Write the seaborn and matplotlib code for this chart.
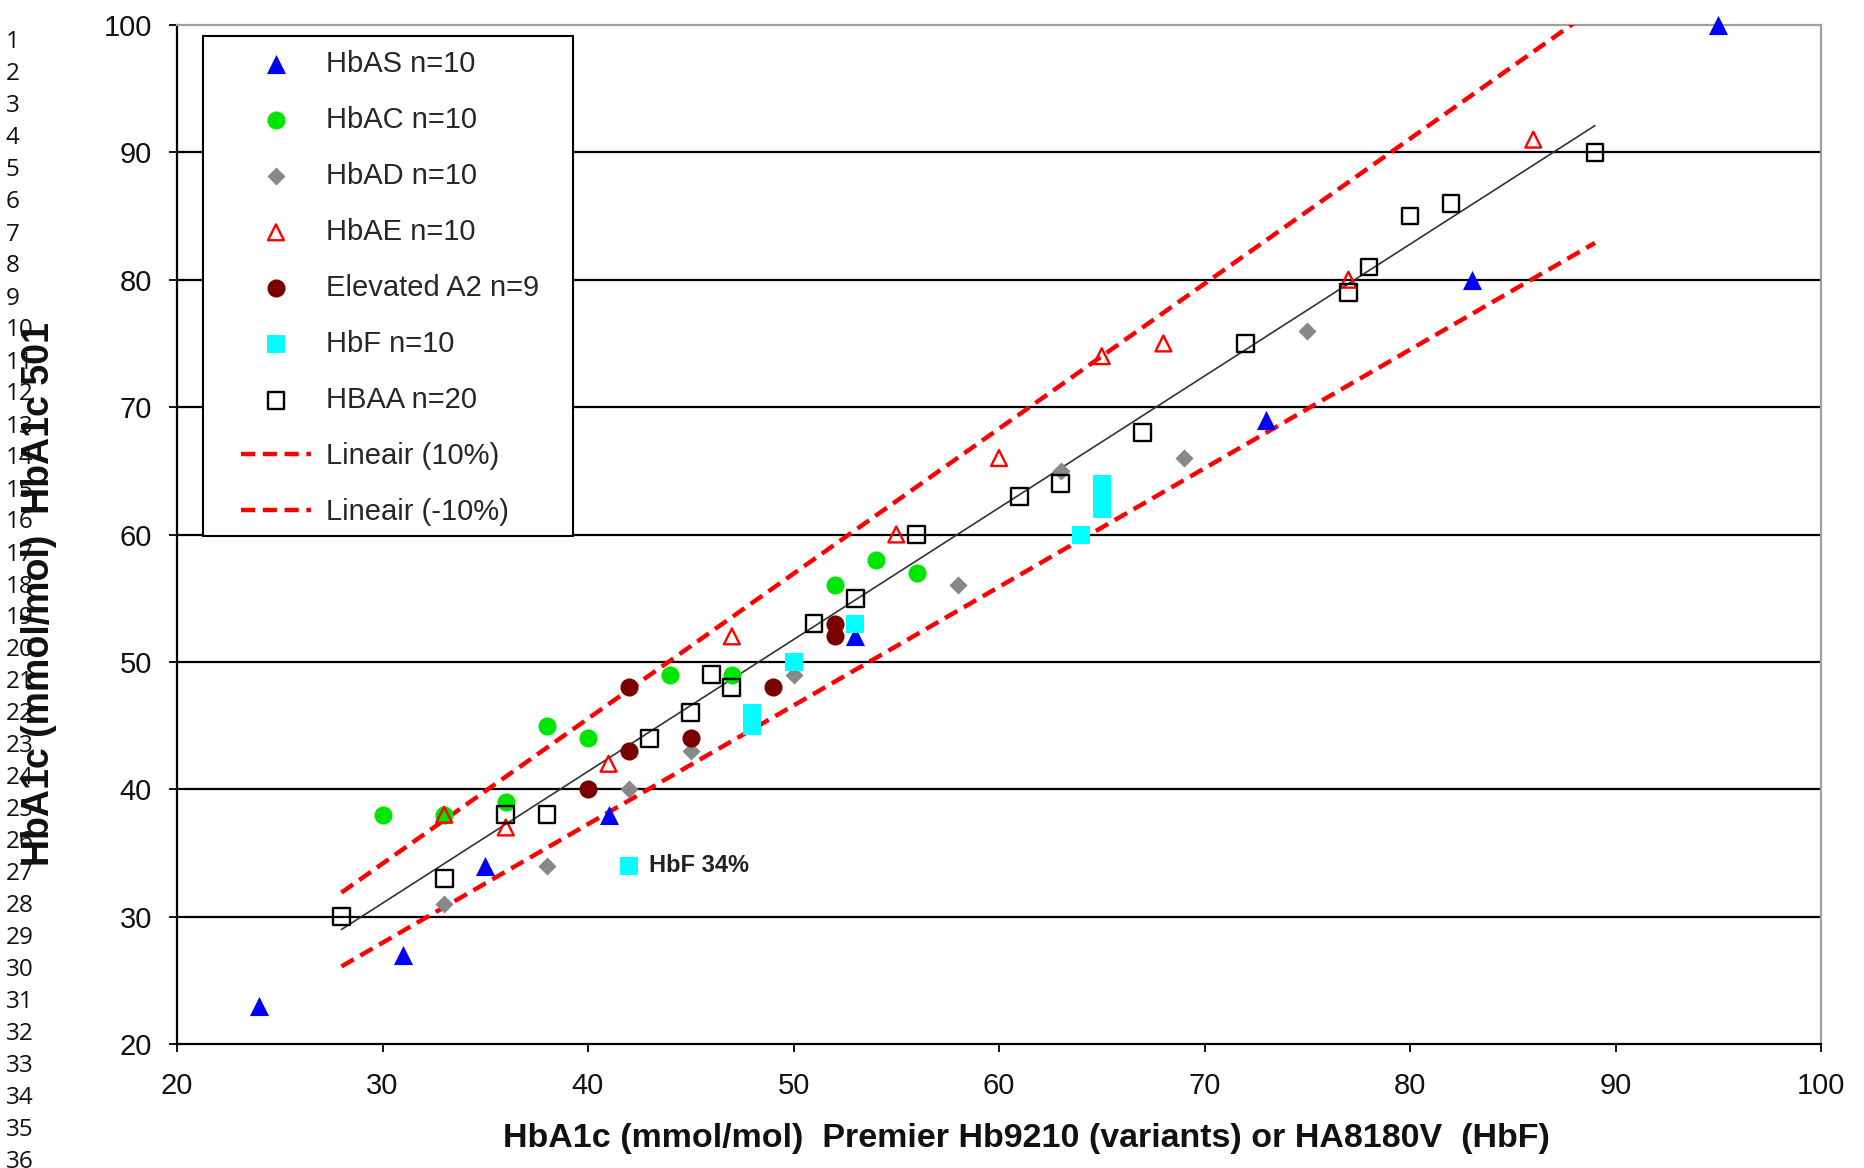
import numpy as np
import matplotlib
matplotlib.use("Agg")
import matplotlib.pyplot as plt
from matplotlib.patches import Rectangle
import seaborn as sns

# values
hbas_x = [24, 31, 35, 41, 53, 73, 83, 95]
hbas_y = [23, 27, 34, 38, 52, 69, 80, 100]

hbac_x = [30, 33, 36, 38, 40, 44, 47, 52, 54, 56]
hbac_y = [38, 38, 39, 45, 44, 49, 49, 56, 58, 57]

hbad_x = [33, 38, 42, 45, 50, 58, 63, 69, 75]
hbad_y = [31, 34, 40, 43, 49, 56, 65, 66, 76]

hbae_x = [33, 36, 41, 47, 55, 60, 65, 68, 77, 86]
hbae_y = [38, 37, 42, 52, 60, 66, 74, 75, 80, 91]

a2_x = [40, 42, 42, 45, 49, 52, 52]
a2_y = [40, 48, 43, 44, 48, 53, 52]

hbf_x = [42, 48, 48, 50, 53, 64, 65, 65, 65]
hbf_y = [34, 45, 46, 50, 53, 60, 62, 63, 64]

hbaa_x = [28, 33, 36, 38, 43, 45, 46, 47, 51, 53, 56, 61, 63, 67, 72, 77, 78, 80, 82, 89]
hbaa_y = [30, 33, 38, 38, 44, 46, 49, 48, 53, 55, 60, 63, 64, 68, 75, 79, 81, 85, 86, 90]

x_ticks = [20, 30, 40, 50, 60, 70, 80, 90, 100]
y_ticks = [20, 30, 40, 50, 60, 70, 80, 90, 100]
line_numbers = [str(n) for n in range(1, 37)]

sns.set_style("white")
plt.rcParams["font.family"] = ["Liberation Sans", "DejaVu Sans"]

fig = plt.figure(figsize=(18.64, 11.68), dpi=100)
ax = fig.add_axes([177 / 1864, 1 - 1044 / 1168, (1821 - 177) / 1864, (1044 - 25) / 1168])

groups = [
    (hbas_x, hbas_y, "HbAS n=10", "^", "#0000FF", True, 190),
    (hbac_x, hbac_y, "HbAC n=10", "o", "#00E600", True, 170),
    (hbad_x, hbad_y, "HbAD n=10", "D", "#888888", True, 85),
    (hbae_x, hbae_y, "HbAE n=10", "^", "#FF0000", False, 130),
    (a2_x, a2_y, "Elevated A2 n=9", "o", "#7A0000", True, 170),
    (hbf_x, hbf_y, "HbF n=10", "s", "#00FFFF", True, 160),
    (hbaa_x, hbaa_y, "HBAA n=20", "s", "#000000", False, 145),
]
for gx, gy, lab, mk, col, filled, size in groups:
    sns.scatterplot(x=gx, y=gy, marker=mk, color=col, s=size, linewidth=0,
                    label=lab, ax=ax, zorder=4, clip_on=False, legend=False)
    pts = ax.collections[-1]
    if not filled:
        pts.set_facecolor("none")
        pts.set_edgecolor(col)
        pts.set_linewidth(1.7)

# trend line through HBAA and +/-10% bands
sns.regplot(x=hbaa_x, y=hbaa_y, scatter=False, ci=None, truncate=True,
            line_kws=dict(color="#333333", lw=1.2), ax=ax)
coef = np.polyfit(hbaa_x, hbaa_y, 1)
xs = np.array([min(hbaa_x), max(hbaa_x)])
ax.plot(xs, 1.1 * np.polyval(coef, xs), color="#FF0000", lw=3.2, dashes=(3.2, 1.7),
        label="Lineair (10%)", zorder=3)
ax.plot(xs, 0.9 * np.polyval(coef, xs), color="#FF0000", lw=3.2, dashes=(3.2, 1.7),
        label="Lineair (-10%)", zorder=3)

ax.annotate("HbF 34%", xy=(hbf_x[0], hbf_y[0]), xytext=(14, 0), textcoords="offset points",
            va="center", ha="left", fontsize=17, fontweight="bold", color="#222222")

ax.set_xlim(20, 100)
ax.set_ylim(20, 100)
ax.set_xticks(x_ticks)
ax.set_yticks(y_ticks)
ax.tick_params(axis="both", direction="out", length=6, width=1.3, color="black",
               labelsize=21, labelcolor="#111111", pad=12)
ax.tick_params(axis="x", pad=14)
ax.tick_params(left=True, bottom=True)

ax.yaxis.grid(True, color="black", lw=1.6)
ax.xaxis.grid(False)
grid = ax.get_ygridlines()
grid[0].set_visible(False)
grid[-1].set_visible(False)
ax.set_axisbelow(True)

for side in ["left", "bottom"]:
    ax.spines[side].set_color("black")
    ax.spines[side].set_linewidth(1.6)
for side in ["top", "right"]:
    ax.spines[side].set_color("#A0A0A0")
    ax.spines[side].set_linewidth(1.6)

# legend box drawn separately so the padding can differ left/right vs top/bottom
box = Rectangle((0.0158, 0.4985), 0.2251, 0.4905, transform=ax.transAxes,
                facecolor="white", edgecolor="black", lw=1.5, zorder=5)
ax.add_patch(box)
handles, labels = ax.get_legend_handles_labels()
leg = ax.legend(handles, labels, loc="upper left", bbox_to_anchor=(0.0389, 0.9755),
                borderaxespad=0, borderpad=0, fontsize=21, frameon=False,
                handlelength=2.4, handletextpad=0.5, labelspacing=0.96)
leg.set_zorder(6)

fig.text(39 / 1864, 0.491, "HbA1c (mmol/mol)  HbA1c 501", rotation=90, ha="center",
         va="center", fontsize=27, fontweight="bold", color="#111111")
fig.text(0.5504, 0.025, "HbA1c (mmol/mol)  Premier Hb9210 (variants) or HA8180V  (HbF)",
         ha="center", va="center", fontsize=24.5, fontweight="bold", color="#111111")

for i, num in enumerate(line_numbers):
    fig.text(0.003, 1 - (42.5 + i * 32.0) / 1168, num, fontsize=17.5, va="center", ha="left",
             family=["Open Sans", "DejaVu Sans"], color="#111111")

fig.savefig("out.png", dpi=100)
